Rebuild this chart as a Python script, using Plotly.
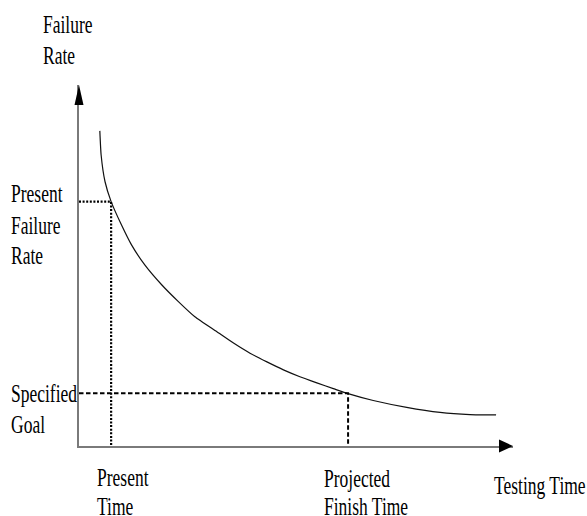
import plotly.graph_objects as go

# ---- data ----
time = [4.8, 5.1, 6.0, 7.4, 9.8, 12.1, 15.2, 19.1, 22.9, 26.7, 31.7, 35.6,
        39.4, 43.3, 47.1, 50.9, 54.8, 58.6, 62.0, 67.8, 75.5, 83.2, 90.1, 96.1]
failure_rate = [87.3, 80.6, 73.2, 67.7, 61.2, 55.7, 50.1, 44.6, 40.0, 35.8, 31.7, 28.5,
                25.7, 23.3, 21.1, 19.2, 17.5, 15.9, 14.5, 12.6, 10.7, 9.3, 8.7, 8.6]
present_time = 7.4
present_rate = 67.7
finish_time = 62.0
goal_rate = 14.6
x_max = 100
y_max = 100

# ---- layout geometry ----
W, H = 587, 516
L, R, T, B = 79, 74, 85, 70
PW, PH = W - L - R, H - T - B

def px2paper_x(px):
    return (px - L) / PW

def px2paper_y(py):
    return (H - B - py) / PH

FONT = "Liberation Serif, Times New Roman, serif"
FS = 17.5

fig = go.Figure()

fig.add_trace(go.Scatter(x=time, y=failure_rate, mode="lines",
                         line=dict(color="#111111", width=1.2, shape="spline", smoothing=0.5),
                         hoverinfo="skip"))
fig.add_trace(go.Scatter(x=[0, present_time, present_time], y=[present_rate, present_rate, 0],
                         mode="lines", line=dict(color="black", width=2.2, dash="2px,1.6px"),
                         hoverinfo="skip"))
fig.add_trace(go.Scatter(x=[0, finish_time, finish_time], y=[goal_rate, goal_rate, 0],
                         mode="lines", line=dict(color="black", width=2, dash="4.5px,2.5px"),
                         hoverinfo="skip"))

axis_common = dict(showgrid=False, zeroline=False, showticklabels=False, ticks="",
                   showline=True, linecolor="#7a7a7a", linewidth=1.6, fixedrange=True)
fig.update_xaxes(range=[0, x_max], **axis_common)
fig.update_yaxes(range=[0, y_max], **axis_common)

# arrowheads (paper-referenced so they are not clipped)
fig.add_shape(type="path", xref="paper", yref="paper", xsizemode="pixel", ysizemode="pixel",
              xanchor=0, yanchor=1, path="M-4.5,-20 L4.5,-20 L0,0 Z",
              fillcolor="black", line=dict(width=0))
fig.add_shape(type="path", xref="paper", yref="paper", xsizemode="pixel", ysizemode="pixel",
              xanchor=1, yanchor=0, path="M-14,-6.5 L-14,6.5 L0,0 Z",
              fillcolor="black", line=dict(width=0))

labels = [
    ("Failure", 42, 23.7),
    ("Rate", 42, 54.7),
    ("Present", 10, 193.3),
    ("Failure", 10, 224.5),
    ("Rate", 10, 255.3),
    ("Specified", 10, 393.0),
    ("Goal", 10, 423.7),
    ("Present", 96, 476.7),
    ("Time", 96, 505.5),
    ("Projected", 323, 477.5),
    ("Finish Time", 323, 505.5),
    ("Testing Time", 493, 484.7),
]
for text, px, py in labels:
    fig.add_annotation(text=text, xref="paper", yref="paper",
                       x=px2paper_x(px), y=px2paper_y(py),
                       xanchor="left", yanchor="middle", showarrow=False,
                       borderpad=0, font=dict(family=FONT, size=FS, color="black"))

fig.update_layout(width=W, height=H, margin=dict(l=L, r=R, t=T, b=B),
                  plot_bgcolor="white", paper_bgcolor="white", showlegend=False)

post = """
document.body.style.margin = '0';
document.querySelectorAll('text.annotation-text').forEach(function(t){
  t.style.transformBox = 'fill-box';
  t.style.transformOrigin = 'center';
  t.style.transform = 'scaleY(1.45)';
});
"""
fig.write_html("out.html", post_script=post, config={"displayModeBar": False})
